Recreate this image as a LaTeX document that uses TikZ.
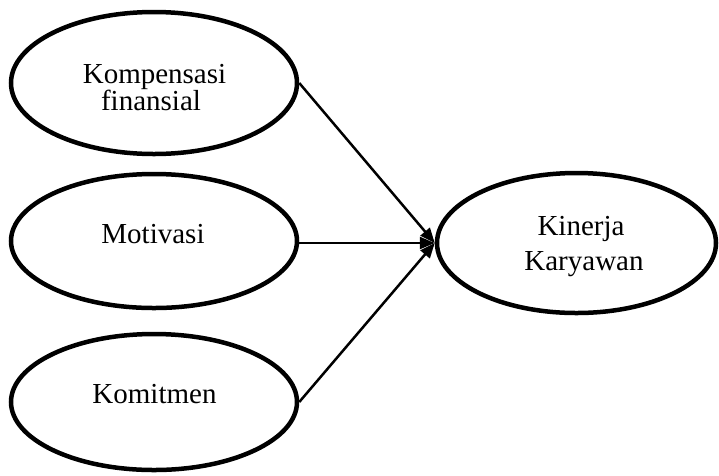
\documentclass[tikz,border=0pt]{standalone}
\usepackage{fontspec}
\setmainfont{Liberation Serif}
\usetikzlibrary{shapes.geometric,arrows.meta}
\begin{document}
\begin{tikzpicture}[x=1pt,y=-1pt,
  oval/.style={draw,ellipse,line width=4.5pt,inner sep=0pt},
  txt/.style={anchor=base,inner sep=0pt,font=\fontsize{29}{29}\selectfont},
  conn/.style={line width=2.5pt,-{Triangle[length=15pt,width=12pt]}}]
\useasboundingbox (0,0) rectangle (719,475);
\node[oval,minimum width=286pt,minimum height=142pt] (k) at (154,83) {};
\node[oval,minimum width=286pt,minimum height=134pt] (m) at (154,241) {};
\node[oval,minimum width=286pt,minimum height=136pt] (c) at (154,402) {};
\node[oval,minimum width=279pt,minimum height=140pt] (y) at (576.5,243) {};
\node[txt] (k1) at (154.5,83.3) {Kompensasi};
\node[txt] (k2) at (151,110.7) {finansial};
\node[txt] (m1) at (153,243) {Motivasi};
\node[txt] (c1) at (154.5,403) {Komitmen};
\node[txt] (y1) at (581,235) {Kinerja};
\node[txt] (y2) at (584,270) {Karyawan};
\draw[conn] (k.east) -- (y.west);
\draw[conn] (y.west -| m.east) -- (y.west);
\draw[conn] (c.east) -- (y.west);
\end{tikzpicture}
\end{document}
